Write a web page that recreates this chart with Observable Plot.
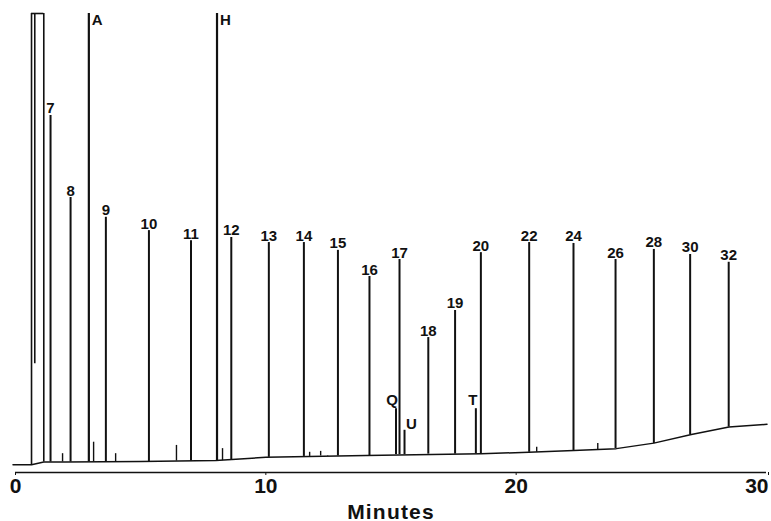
<!DOCTYPE html>
<html><head><meta charset="utf-8">
<script src="https://cdn.jsdelivr.net/npm/d3@7"></script>
<script src="https://cdn.jsdelivr.net/npm/@observablehq/plot@0.6"></script>
<style>
  body { margin: 0; background: #fff; }
  #chart svg { display: block; }
  g[aria-label="x-axis tick label"] text { font-weight: bold; }
  g[aria-label="x-axis label"] text { font-weight: bold; letter-spacing: 1.2px; }
</style>
</head><body><div id="chart"></div>
<script>
// Labelled peaks: retention time (min), apex and local baseline (arbitrary response units, 0..100 = full scale)
const peakLabels  = ["7","8","9","10","11","12","13","14","15","16","Q","17","U","18","19","T","20","22","24","26","28","30","32"];
const peakTimes   = [1.40,2.20,3.61,5.33,7.01,8.62,10.12,11.52,12.88,14.14,15.20,15.34,15.54,16.49,17.56,18.39,18.59,20.52,22.29,23.97,25.50,26.95,28.49];
const peakHeights = [77.8,59.9,55.6,52.7,50.5,51.2,50.1,50.1,48.4,42.7,13.9,46.4,9.2,29.4,35.3,13.9,47.9,50.1,49.9,46.4,48.6,47.5,45.8];
const peakBases   = [2.3,2.3,2.3,2.4,2.5,2.7,3.3,3.5,3.6,3.7,3.9,3.9,3.9,4.0,4.0,4.1,4.1,4.4,4.8,5.2,6.3,8.2,9.9];

// Off-scale peaks (clipped at full scale)
const offLabels = ["A","H"];
const offTimes  = [2.93,8.05];
const offBases  = [2.3,2.6];

// Solvent front (off scale, flat-topped)
const solventStart = 0.64;
const solventEnd   = 1.13;
const solventInner = 0.77;
const solventInnerLow = 23.7;

// Small unlabelled peaks
const minorTimes   = [1.88,3.12,4.00,6.43,8.27,11.75,12.19,12.47,20.82,23.26];
const minorHeights = [4.1,6.6,4.1,5.9,5.2,4.4,4.6,3.7,5.5,6.3];
const minorBases   = [2.3,2.3,2.3,2.5,2.6,3.5,3.6,3.6,4.4,4.9];

// Baseline drift
const baseTimes  = [-0.1,0.64,1.13,2.0,5.0,8.0,10.0,14.0,18.6,20.5,22.3,24.0,25.5,27.0,28.5,30.02];
const baseValues = [1.7,1.7,2.3,2.3,2.4,2.6,3.3,3.7,4.1,4.4,4.8,5.2,6.4,8.3,9.9,10.5];

const xTicks = [0,10,20,30];

const peaks = peakLabels.map((l,i)=>({label:l, t:peakTimes[i], h:peakHeights[i], b:peakBases[i]}));
const off = offLabels.map((l,i)=>({label:l, t:offTimes[i], b:offBases[i], h:100}));
const minor = minorTimes.map((t,i)=>({t, h:minorHeights[i], b:minorBases[i]}));
const baseline = baseTimes.map((t,i)=>({t, v:baseValues[i]}));
const solvent = [{x1:solventStart, x2:solventEnd}];
const solventEdges = [{t:solventStart, b:baseValues[1], h:100},{t:solventEnd, b:baseValues[2], h:100},{t:solventInner, b:solventInnerLow, h:100}];

const normal = peaks.filter(d => !["Q","T","U"].includes(d.label));
const ink = "#111";

const chart = Plot.plot({
  width: 771, height: 521,
  marginLeft: 15, marginRight: 5, marginTop: 13, marginBottom: 49,
  style: {fontFamily: "'Liberation Sans', Arial, Helvetica, sans-serif", background: "#fff", color: ink},
  x: {domain: [0,30]},
  y: {domain: [0,100], axis: null},
  marks: [
    Plot.ruleY([0], {stroke: ink, strokeWidth: 1.5}),
    Plot.axisX(xTicks.slice(0,3), {tickSize: 3, tickPadding: 3, fontSize: 21, label: "Minutes", labelAnchor: "center", labelArrow: "none", labelOffset: 46}),
    Plot.axisX(xTicks.slice(3), {tickSize: 3, tickPadding: 3, fontSize: 21, textAnchor: "end", dx: 2, label: null}),
    Plot.line(baseline, {x: "t", y: "v", stroke: ink, strokeWidth: 1.5}),
    Plot.ruleX(peaks, {x: "t", y1: "b", y2: "h", stroke: ink, strokeWidth: 2}),
    Plot.ruleX(off, {x: "t", y1: "b", y2: "h", stroke: ink, strokeWidth: 2.2}),
    Plot.ruleX(minor, {x: "t", y1: "b", y2: "h", stroke: ink, strokeWidth: 1.4}),
    Plot.ruleX(solventEdges, {x: "t", y1: "b", y2: "h", stroke: ink, strokeWidth: 1.6}),
    Plot.ruleY(solvent, {x1: "x1", x2: "x2", y: () => 100, stroke: ink, strokeWidth: 1.6}),
    Plot.text(normal, {x: "t", y: "h", text: "label", lineAnchor: "bottom", dy: -2, fontSize: 15, fontWeight: "bold", fill: ink}),
    Plot.text(peaks.filter(d => d.label === "Q"), {x: "t", y: "h", text: "label", lineAnchor: "bottom", dy: -4, dx: -4, fontSize: 15, fontWeight: "bold", fill: ink}),
    Plot.text(peaks.filter(d => d.label === "T"), {x: "t", y: "h", text: "label", lineAnchor: "bottom", dy: -4, dx: -3, fontSize: 15, fontWeight: "bold", fill: ink}),
    Plot.text(peaks.filter(d => d.label === "U"), {x: "t", y: "h", text: "label", lineAnchor: "bottom", dy: -1, dx: 7, fontSize: 15, fontWeight: "bold", fill: ink}),
    Plot.text(off, {x: "t", y: "h", text: "label", lineAnchor: "top", textAnchor: "start", dx: 3, dy: 1, fontSize: 15, fontWeight: "bold", fill: ink})
  ]
});
document.getElementById("chart").appendChild(chart);
</script>
</body></html>
